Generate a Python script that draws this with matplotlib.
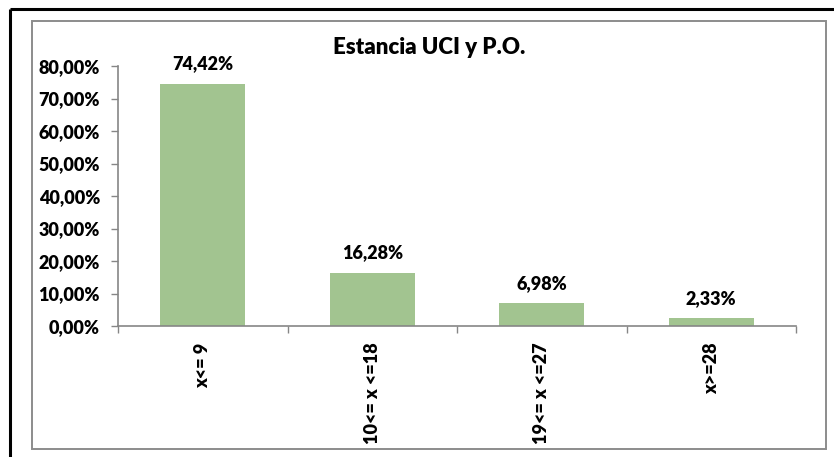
import matplotlib
matplotlib.use("Agg")
import matplotlib.pyplot as plt
from matplotlib.patches import Rectangle
from matplotlib.lines import Line2D
from matplotlib.ticker import FixedLocator, FuncFormatter

categories = ["x<= 9", "10<= x <=18", "19<= x <=27", "x>=28"]
values = [0.7442, 0.1628, 0.0698, 0.0233]
yticks = [0.0, 0.1, 0.2, 0.3, 0.4, 0.5, 0.6, 0.7, 0.8]
title = "Estancia UCI y P.O."

W, H = 834, 457
DPI = 100
plt.rcParams['font.family'] = ['Lato', 'DejaVu Sans']
WEIGHT = 'heavy'
fig = plt.figure(figsize=(W / DPI, H / DPI), dpi=DPI)

def fx(px):
    return px / W

def fy(py):
    return 1 - py / H

# white strip on the right edge (no frame there in the reference)
fig.add_artist(Rectangle((fx(828), 0), 1 - fx(828), 1, transform=fig.transFigure,
                         facecolor='white', edgecolor='none', zorder=50))
# outer black border (only top and left visible)
fig.add_artist(Line2D([fx(10), fx(834)], [fy(9), fy(9)], transform=fig.transFigure,
                      color='black', linewidth=2.2, solid_capstyle='butt', zorder=60))
fig.add_artist(Line2D([fx(10), fx(10)], [fy(9), fy(457)], transform=fig.transFigure,
                      color='black', linewidth=2.2, solid_capstyle='butt', zorder=60))
# inner grey chart-area border
fig.patches.append(Rectangle((fx(32), fy(449)), fx(826) - fx(32), fy(21) - fy(449),
                             transform=fig.transFigure, fill=False, edgecolor='#8c8c8c',
                             linewidth=1.4, zorder=0))

left, right, top, bottom = 118, 796, 66, 326
ax = fig.add_axes([fx(left), fy(bottom), fx(right) - fx(left), fy(top) - fy(bottom)])

x = list(range(len(categories)))
ax.bar(x, values, width=0.5, color='#a2c490', zorder=2)
ax.set_xlim(-0.5, len(categories) - 0.5)
ax.set_ylim(0, 0.8)

ax.set_yticks(yticks)
ax.yaxis.set_major_formatter(FuncFormatter(lambda v, p: f"{v*100:.2f}%".replace('.', ',')))
ax.tick_params(axis='y', direction='out', length=5, width=1, color='#868686',
               labelsize=13, pad=8)
for lbl in ax.get_yticklabels():
    lbl.set_fontweight(WEIGHT)

ax.set_xticks(x)
ax.set_xticklabels(categories, rotation=90, fontsize=13, fontweight=WEIGHT, va='top')
ax.tick_params(axis='x', which='major', length=0, pad=12)
ax.xaxis.set_minor_locator(FixedLocator([i - 0.5 for i in range(len(categories) + 1)]))
ax.tick_params(axis='x', which='minor', direction='out', length=5, width=1, color='#868686')

for s in ['top', 'right']:
    ax.spines[s].set_visible(False)
for s in ['left', 'bottom']:
    ax.spines[s].set_color('#868686')
    ax.spines[s].set_linewidth(1.2)

for xi, v in zip(x, values):
    ax.annotate(f"{v*100:.2f}%".replace('.', ','), (xi, v), xytext=(0, 14.5),
                textcoords='offset points', ha='center', va='center',
                fontsize=13, fontweight=WEIGHT)

fig.text(fx(429), fy(47), title, ha='center', va='center', fontsize=16, fontweight=WEIGHT)

fig.savefig('out.png', dpi=DPI)
